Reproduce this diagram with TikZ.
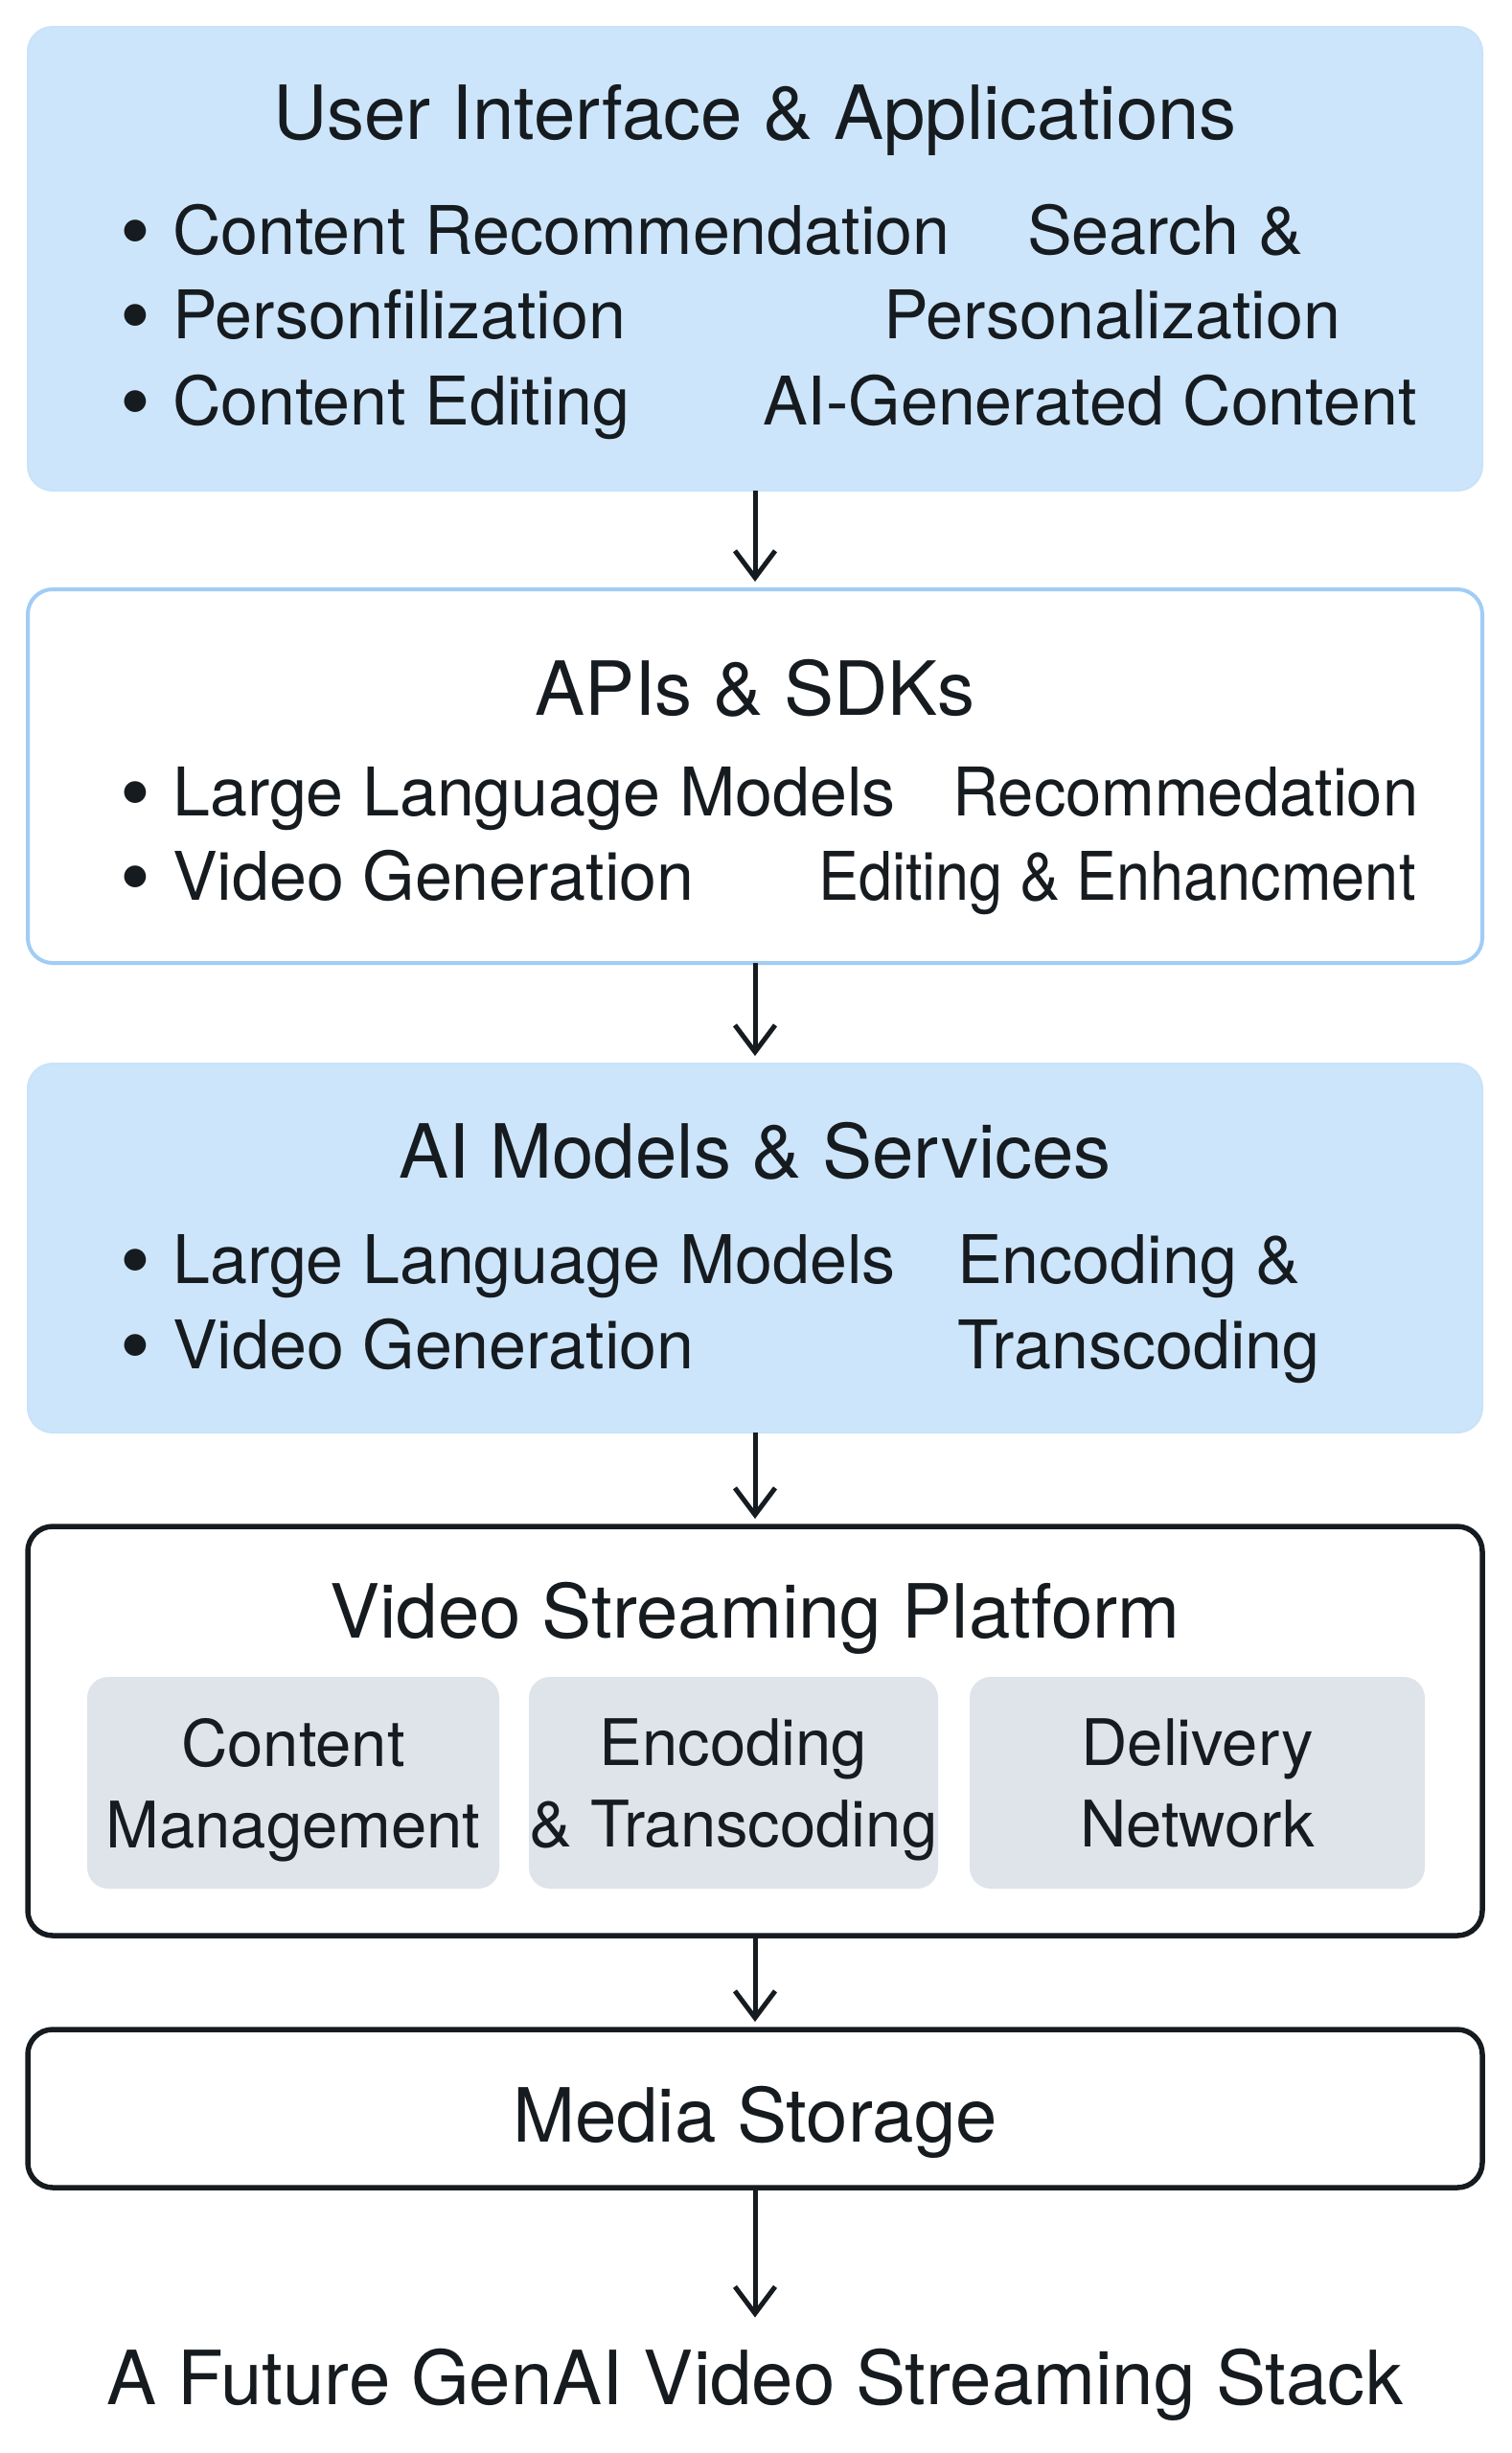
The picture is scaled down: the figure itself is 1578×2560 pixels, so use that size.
\documentclass[tikz,border=0pt]{standalone}
\usepackage{fontspec}
\setmainfont{TeX Gyre Heros}
\usepackage{xcolor}
\usepackage{graphicx}
\usetikzlibrary{arrows.meta}

\definecolor{layerblue}{RGB}{204,229,250}
\definecolor{edgeblue}{RGB}{160,205,245}
\definecolor{subgray}{RGB}{222,228,234}
\definecolor{ink}{RGB}{22,27,32}

\newcommand\titlesize{\fontsize{78}{94}\selectfont}
\newcommand\itemsize{\fontsize{70}{89}\selectfont}
\newcommand\subsize{\fontsize{67}{85}\selectfont}
\newcommand\bul{\makebox[55pt][l]{\raisebox{-7pt}{\scalebox{1.3}{\textbullet}}}}

\begin{document}
\begin{tikzpicture}[x=1pt,y=-1pt,
  layer/.style={rounded corners=26pt, minimum width=1518pt, inner sep=0pt, outer sep=0pt},
  bluelayer/.style={layer, fill=layerblue, draw=layerblue!92!edgeblue, line width=2pt},
  openlayer/.style={layer, fill=white, draw=ink, line width=5.5pt},
  sublayer/.style={rounded corners=22pt, fill=subgray, inner sep=0pt, outer sep=0pt,
    minimum height=221pt, align=center, font=\subsize, text=ink, text depth=0pt},
  title/.style={anchor=base, inner sep=0pt, font=\titlesize, text=ink},
  item/.style={anchor=base west, inner sep=0pt, font=\itemsize, text=ink},
  flow/.style={-{Straight Barb[length=28pt,width=42pt]}, line width=5pt, draw=ink, shorten >=8pt}
]
\useasboundingbox[fill=white] (0,0) rectangle (1578,2560);

% layers, top to bottom
\node[bluelayer, minimum height=484pt] (ui) at (788,270) {};
\node[layer, fill=white, draw=edgeblue, line width=4pt, minimum height=390pt] (api) at (788,810) {};
\node[bluelayer, minimum height=385pt] (aim) at (788,1302.5) {};
\node[openlayer, minimum height=427pt] (vsp) at (788,1806.5) {};
\node[openlayer, minimum height=165pt] (ms) at (788,2200.5) {};

% user interface
\node[title] (uit) at (788,145) {User Interface \& Applications};
\node[item] (ui1) at (125,265) {\bul Content Recommendation};
\node[item] (ui2) at (125,353) {\bul Personfilization};
\node[item] (ui3) at (125,443) {\bul Content Editing};
\node[item] (ui4) at (1072,265) {Search \&};
\node[item] (ui5) at (922,353) {Personalization};
\node[item] (ui6) at (796,443) {AI-Generated Content};

% apis
\node[title] (apit) at (788,746) {APIs \& SDKs};
\node[item] (api1) at (125,851) {\bul Large Language Models};
\node[item] (api2) at (125,939) {\bul Video Generation};
\node[item] (api3) at (994,851) {\scalebox{0.955}[1]{Recommedation}};
\node[item] (api4) at (854,939) {\scalebox{0.9}[1]{Editing \& Enhancment}};

% models
\node[title] (aimt) at (788,1229) {AI Models \& Services};
\node[item] (aim1) at (125,1339) {\bul Large Language Models};
\node[item] (aim2) at (125,1428) {\bul Video Generation};
\node[item] (aim3) at (999,1339) {Encoding \&};
\node[item] (aim4) at (999,1428) {Transcoding};

% platform
\node[title] (vspt) at (788,1709) {Video Streaming Platform};
\node[sublayer, minimum width=430pt] (cm) at (306,1860.5) {Content\\Management};
\node[sublayer, minimum width=427pt] (et) at (765.5,1860.5) {Encoding\\\& Transcoding};
\node[sublayer, minimum width=475pt] (dn) at (1249.5,1860.5) {Delivery\\Network};

% storage
\node[title] (mst) at (788,2235) {Media Storage};
\node[title] (cap) at (788,2509) {A Future GenAI Video Streaming Stack};

\draw[flow] (ui.south) -- (api.north);
\draw[flow] (api.south) -- (aim.north);
\draw[flow] (aim.south) -- (vsp.north);
\draw[flow] (vsp.south) -- (ms.north);
\draw[flow, shorten >=32pt] (ms.south) -- (cap.north);

\end{tikzpicture}
\end{document}
